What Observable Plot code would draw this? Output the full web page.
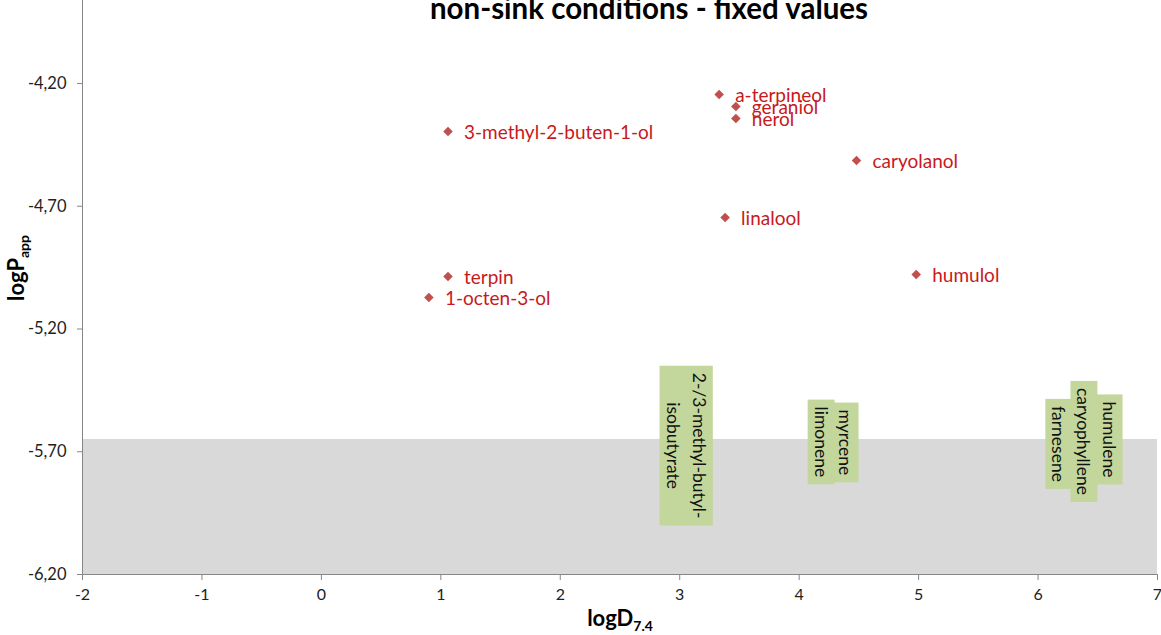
<!DOCTYPE html>
<html><head><meta charset="utf-8">
<script src="https://cdn.jsdelivr.net/npm/d3@7"></script>
<script src="https://cdn.jsdelivr.net/npm/@observablehq/plot@0.6"></script>
<style>
body{margin:0;background:#fff;}
#chart{position:relative;width:1161px;height:635px;overflow:hidden;}
</style></head><body><div id="chart"></div>
<script>
// measured compounds (red diamonds)
const compounds = ["a-terpineol","geraniol","nerol","3-methyl-2-buten-1-ol","caryolanol","linalool","humulol","terpin","1-octen-3-ol"];
const logD = [3.33, 3.47, 3.47, 1.06, 4.48, 3.38, 4.98, 1.06, 0.90];
const logP = [-4.245, -4.294, -4.343, -4.396, -4.514, -4.746, -4.978, -4.986, -5.072];

// compounds below detection (green boxed labels)
const belowCompounds = ["2-/3-methyl-butyl-\nisobutyrate","limonene","myrcene","farnesene","caryophyllene","humulene"];
const belowLogD = [3.07, 4.20, 4.40, 6.19, 6.40, 6.61];
const belowLogP = [-5.675, -5.660, -5.662, -5.668, -5.658, -5.650];

const detectionLimit = [-5.65];
const xTicks = [-2,-1,0,1,2,3,4,5,6,7];
const yTicks = [-6.2,-5.7,-5.2,-4.7,-4.2];
const yTop = -3.862;
const title = "non-sink conditions - fixed values";

const points = compounds.map((c,i)=>({name:c, x:logD[i], y:logP[i]}));
const below = belowCompounds.map((c,i)=>({name:c, x:belowLogD[i], y:belowLogP[i]}));

const font = "Lato, 'Open Sans', sans-serif";
const plot = Plot.plot({
  width:1161, height:635,
  marginLeft:82, marginRight:4, marginTop:0, marginBottom:61,
  style:{fontFamily:font, fontSize:"16px", color:"#222", background:"#fff", overflow:"visible"},
  x:{domain:[xTicks[0], xTicks[xTicks.length-1]]},
  y:{domain:[yTicks[0], yTop]},
  marks:[
    Plot.rect(detectionLimit, {y1: yTicks[0], y2: d=>d, fill:"#d9d9d9"}),
    Plot.text(below, {x:"x", y:"y", text:"name", rotate:90, fontSize:17.5, lineHeight:1.5, fill:"#111", textAnchor:"middle", lineAnchor:"middle"}),
    Plot.ruleX([xTicks[0]], {stroke:"#868686", strokeWidth:1}),
    Plot.ruleY([yTicks[0]], {stroke:"#868686", strokeWidth:1}),
    Plot.axisX({ticks:xTicks, tickSize:6, tickPadding:8, stroke:"#868686", label:null, tickFormat:d=>String(d), fontSize:16}),
    Plot.axisY({ticks:yTicks, tickSize:5, tickPadding:11, stroke:"#868686", label:null, tickFormat:d=>d.toFixed(2).replace(".",","), fontSize:16.5}),
    Plot.dot(points, {x:"x", y:"y", symbol:"diamond2", r:4.3, fill:"#c0504d", stroke:"none"}),
    Plot.text(points, {x:"x", y:"y", text:"name", dx:16, dy:1, textAnchor:"start", fill:"#c8191c", fontSize:19}),
    Plot.text([title], {frameAnchor:"top", text:d=>d, dx:29, dy:18, lineAnchor:"bottom", fontSize:29.5, fontWeight:"bold", fill:"#000"})
  ]
});
document.getElementById("chart").appendChild(plot);

// green background boxes behind rotated labels
const svg = d3.select(plot);
const textGroups = plot.querySelectorAll('g[aria-label="text"]');
const greenG = textGroups[0];
greenG.querySelectorAll("text").forEach(t=>{
  const b = t.getBBox();
  const padL = 7, padC = 3;
  const r = document.createElementNS("http://www.w3.org/2000/svg","rect");
  r.setAttribute("x", b.x - padL);
  r.setAttribute("y", b.y - padC);
  r.setAttribute("width", b.width + 2*padL);
  r.setAttribute("height", b.height + 2*padC);
  r.setAttribute("fill", "#c3d69b");
  const tr = t.getAttribute("transform");
  if (tr) r.setAttribute("transform", tr);
  greenG.insertBefore(r, t);
});

// axis titles with subscripts
const yl = svg.append("text").attr("transform","translate(24,268) rotate(-90)")
  .attr("text-anchor","middle").attr("font-family",font).attr("font-weight","bold").attr("font-size",22).attr("fill","#000");
yl.append("tspan").text("logP");
yl.append("tspan").text("app").attr("font-size",14).attr("dy",5);
const xl = svg.append("text").attr("transform","translate(620,626)")
  .attr("text-anchor","middle").attr("font-family",font).attr("font-weight","bold").attr("font-size",22).attr("fill","#000");
xl.append("tspan").text("logD");
xl.append("tspan").text("7.4").attr("font-size",14).attr("dy",5);
</script></body></html>
